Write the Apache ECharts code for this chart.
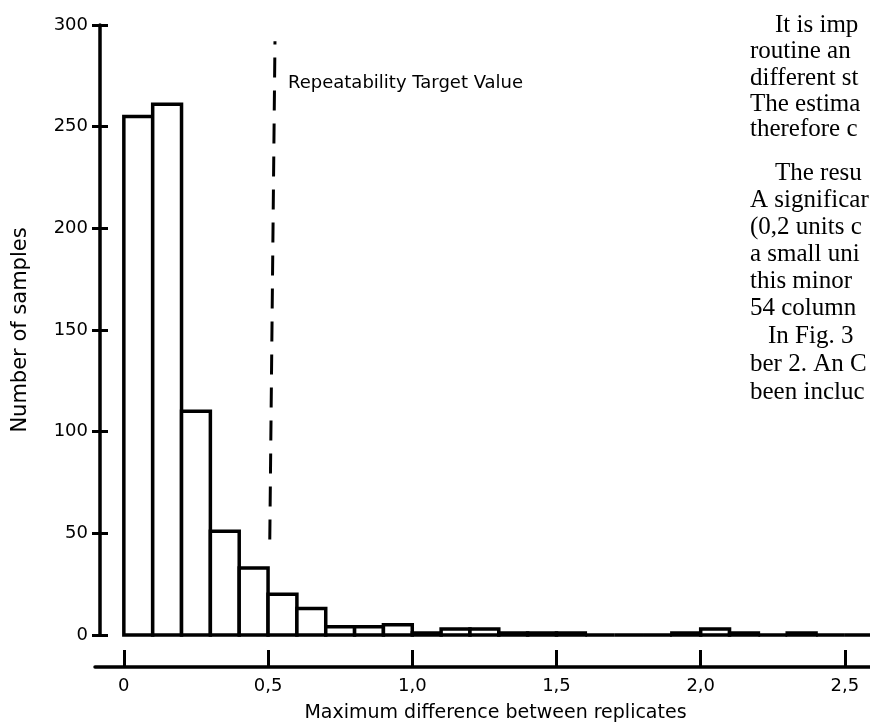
<!DOCTYPE html>
<html lang="en">
<head>
<meta charset="UTF-8">
<title>Maximum difference between replicates</title>
<script src="https://cdn.jsdelivr.net/npm/echarts@6/dist/echarts.min.js"></script>
</head>
<body style="height: 100%; margin: 0; background: #fff">
<div id="container" style="width: 870px; height: 728px"></div>
<script type="text/javascript">
    // histogram bins (left edge of each 0.1 wide bin) and counts
    var binStarts = [0, 0.1, 0.2, 0.3, 0.4, 0.5, 0.6, 0.7, 0.8, 0.9, 1.0, 1.1, 1.2,
        1.3, 1.4, 1.5, 1.6, 1.7, 1.8, 1.9, 2.0, 2.1, 2.2, 2.3, 2.4, 2.5];
    var counts = [255, 261, 110, 51, 33, 20, 13, 4, 4, 5, 1, 3, 3,
        1, 1, 1, 0, 0, 0, 1, 3, 1, 0, 1, 0, 0];
    var binWidth = 0.1;
    var xTicks = [0, 0.5, 1.0, 1.5, 2.0, 2.5];

    // repeatability target (dashed line), slightly skewed as in the scan
    var targetLine = [[0.506, 47], [0.524, 292]];
    var targetLabel = 'Repeatability Target Value';

    // running page text cut off at the right edge of the scan
    var pageLines = ['It is imp', 'routine an', 'different st', 'The estima', 'therefore c',
        'The resu', 'A significar', '(0,2 units c', 'a small uni', 'this minor',
        '54 column', 'In Fig. 3', 'ber 2. An C', 'been incluc'];
    var pageLineY = [27, 53, 80, 106, 131, 175, 202, 229, 256, 283, 310, 338, 366, 394];
    var pageLineX = [775, 750, 750, 750, 750, 775, 750, 750, 750, 750, 750, 768, 750, 750];

    var dom = document.getElementById('container');
    var myChart = echarts.init(dom);

    var histData = binStarts.map(function (b, i) { return [b, counts[i]]; });

    var textGraphics = pageLines.map(function (t, i) {
        return {
            type: 'text',
            left: pageLineX[i],
            top: pageLineY[i] - 14,
            style: {
                text: t,
                font: '25px "Liberation Serif"',
                fill: '#000'
            }
        };
    });
    textGraphics.push({
        type: 'text',
        left: 288,
        top: 74,
        style: {
            text: targetLabel,
            font: '18px "DejaVu Sans"',
            fill: '#000'
        }
    });

    var option = {
        backgroundColor: '#fff',
        animation: false,
        grid: { left: 95, right: 0, top: 25, bottom: 88 },
        xAxis: {
            type: 'value',
            min: -0.1,
            max: 2.587,
            offset: 32,
            name: 'Maximum difference between replicates',
            nameLocation: 'middle',
            nameGap: 37,
            nameTextStyle: { fontFamily: 'DejaVu Sans', fontSize: 19, color: '#000', padding: [0, 0, 0, 26] },
            axisLine: { onZero: false, lineStyle: { color: '#000', width: 3.5 } },
            axisTick: { inside: true, length: 17, lineStyle: { color: '#000', width: 3 }, customValues: xTicks },
            axisLabel: {
                customValues: xTicks,
                fontFamily: 'DejaVu Sans', fontSize: 18, color: '#000', margin: 10,
                formatter: function (v) { return v === 0 ? '0' : v.toFixed(1).replace('.', ','); }
            },
            splitLine: { show: false }
        },
        yAxis: [{
            type: 'value',
            min: 0, max: 300, interval: 50,
            offset: -5,
            name: 'Number of samples',
            nameLocation: 'middle',
            nameRotate: 90,
            nameGap: 69,
            nameTextStyle: { fontFamily: 'DejaVu Sans', fontSize: 21, color: '#000' },
            axisLine: { show: true, onZero: false, lineStyle: { color: '#000', width: 3.5 } },
            axisTick: { show: true, length: 8, lineStyle: { color: '#000', width: 3 } },
            axisLabel: { fontFamily: 'DejaVu Sans', fontSize: 18, color: '#000', margin: 12 },
            splitLine: { show: false }
        }, {
            type: 'value',
            position: 'left',
            min: 0, max: 300, interval: 50,
            offset: -5,
            axisLine: { show: false, onZero: false },
            axisTick: { show: true, inside: true, length: 8, lineStyle: { color: '#000', width: 3 } },
            axisLabel: { show: false },
            splitLine: { show: false }
        }],
        graphic: textGraphics,
        series: [{
            type: 'custom',
            clip: false,
            encode: { x: 0, y: 1 },
            data: histData,
            renderItem: function (params, api) {
                var x0 = api.value(0);
                var v = api.value(1);
                var p0 = api.coord([x0, 0]);
                var p1 = api.coord([x0 + binWidth, v]);
                return {
                    type: 'rect',
                    shape: { x: p0[0], y: p1[1], width: p1[0] - p0[0], height: p0[1] - p1[1] },
                    style: { fill: '#fff', stroke: '#000', lineWidth: 3.5 }
                };
            }
        }, {
            type: 'line',
            data: targetLine,
            symbol: 'none',
            lineStyle: { color: '#000', width: 3, type: [20, 13] },
            z: 3
        }]
    };

    if (option && typeof option === 'object') {
        myChart.setOption(option, true);
    }
</script>
</body>
</html>
